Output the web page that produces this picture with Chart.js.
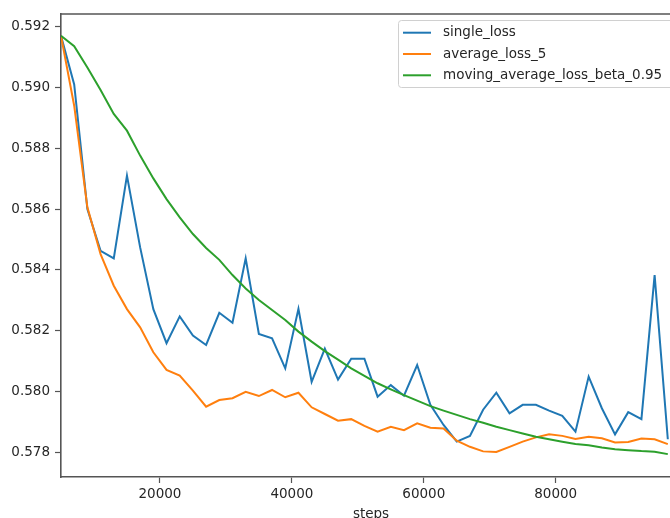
<!DOCTYPE html>
<html>
<head>
<meta charset="utf-8">
<script src="https://cdn.jsdelivr.net/npm/chart.js@4.4.1/dist/chart.umd.min.js"></script>
<style>
  html, body { margin: 0; padding: 0; overflow: hidden; background: #fff; }
  canvas { display: block; }
</style>
</head>
<body>
<canvas id="lossChart" width="681" height="530"></canvas>
<script>
// training steps (every 2000)
var steps = [5000, 7000, 9000, 11000, 13000, 15000, 17000, 19000, 21000, 23000,
    25000, 27000, 29000, 31000, 33000, 35000, 37000, 39000, 41000, 43000,
    45000, 47000, 49000, 51000, 53000, 55000, 57000, 59000, 61000, 63000,
    65000, 67000, 69000, 71000, 73000, 75000, 77000, 79000, 81000, 83000,
    85000, 87000, 89000, 91000, 93000, 95000, 97000];

var singleLoss = [0.5917, 0.5901, 0.5860, 0.58463, 0.58438, 0.58710, 0.58474, 0.58271, 0.58159, 0.58247,
    0.58184, 0.58153, 0.58259, 0.58226, 0.58438, 0.58189, 0.58175, 0.58076, 0.58272, 0.58032,
    0.58141, 0.58039, 0.58108, 0.58108, 0.57983, 0.58021, 0.57986, 0.58087, 0.57956, 0.57890,
    0.57835, 0.57854, 0.57940, 0.57996, 0.57928, 0.57956, 0.57956, 0.57937, 0.57920, 0.57868,
    0.58049, 0.57945, 0.57859, 0.57932, 0.57909, 0.58383, 0.57843];

var averageLoss5 = [0.5917, 0.5894, 0.58606, 0.58452, 0.58348, 0.58271, 0.58211, 0.58129, 0.58071, 0.58052,
    0.58003, 0.57950, 0.57972, 0.57978, 0.57999, 0.57985, 0.58005, 0.57981, 0.57996, 0.57948,
    0.57926, 0.57904, 0.57909, 0.57887, 0.57868, 0.57884, 0.57873, 0.57895, 0.57881, 0.57878,
    0.57838, 0.57818, 0.57803, 0.57801, 0.57818, 0.57835, 0.57849, 0.57859, 0.57854, 0.57844,
    0.57851, 0.57846, 0.57832, 0.57834, 0.57845, 0.57843, 0.57827];

var movingAvgLoss = [0.5917, 0.59136, 0.59066, 0.58992, 0.58913, 0.58858, 0.58776, 0.58701, 0.58633, 0.58573,
    0.58518, 0.58472, 0.58433, 0.58383, 0.58339, 0.58301, 0.58268, 0.58235, 0.58197, 0.58164,
    0.58133, 0.58105, 0.58076, 0.58051, 0.58027, 0.58007, 0.57988, 0.57970, 0.57952, 0.57937,
    0.57923, 0.57909, 0.57897, 0.57884, 0.57873, 0.57862, 0.57851, 0.57843, 0.57835, 0.57827,
    0.57823, 0.57816, 0.57810, 0.57807, 0.57804, 0.57802, 0.57794];

var seriesNames = ['single_loss', 'average_loss_5', 'moving_average_loss_beta_0.95'];
var seriesColors = ['#1f77b4', '#ff7f0e', '#2ca02c'];

var yTicks = [0.578, 0.580, 0.582, 0.584, 0.586, 0.588, 0.590, 0.592];
var xTicks = [20000, 40000, 60000, 80000];

var FONT = 'DejaVu Sans';
var INK = '#262626';
var SPINE = '#555555';

function points(vals) {
    return steps.map(function (s, i) { return { x: s, y: vals[i] }; });
}

// top/right spines + legend box in the upper right corner
var frameAndLegend = {
    id: 'frameAndLegend',
    afterDraw: function (chart) {
        var ctx = chart.ctx;
        var a = chart.chartArea;
        ctx.save();
        ctx.strokeStyle = SPINE;
        ctx.lineWidth = 1.6;
        ctx.beginPath();
        ctx.moveTo(a.left, a.top);
        ctx.lineTo(a.right, a.top);
        ctx.lineTo(a.right, a.bottom);
        ctx.stroke();

        var bx = 398, by = 20, bw = 276, bh = 67;
        ctx.fillStyle = 'rgba(255,255,255,0.85)';
        ctx.strokeStyle = '#d0d0d0';
        ctx.lineWidth = 1;
        ctx.beginPath();
        ctx.roundRect(bx + 0.5, by + 0.5, bw, bh, 3);
        ctx.fill();
        ctx.stroke();

        ctx.font = '13.5px "' + FONT + '"';
        ctx.textBaseline = 'middle';
        ctx.textAlign = 'left';
        chart.data.datasets.forEach(function (ds, i) {
            var ry = 32.7 + i * 21.3;
            ctx.strokeStyle = ds.borderColor;
            ctx.lineWidth = 2;
            ctx.beginPath();
            ctx.moveTo(403, ry);
            ctx.lineTo(431, ry);
            ctx.stroke();
            ctx.fillStyle = INK;
            ctx.fillText(ds.label, 443, ry);
        });
        ctx.restore();
    }
};

var ctx = document.getElementById('lossChart').getContext('2d');
var lossChart = new Chart(ctx, {
    type: 'line',
    data: {
        datasets: [
            { label: seriesNames[0], data: points(singleLoss), borderColor: seriesColors[0], order: 3 },
            { label: seriesNames[1], data: points(averageLoss5), borderColor: seriesColors[1], order: 2 },
            { label: seriesNames[2], data: points(movingAvgLoss), borderColor: seriesColors[2], order: 1 }
        ]
    },
    options: {
        responsive: false,
        animation: false,
        devicePixelRatio: 1,
        layout: { padding: { top: 14, right: 0, left: 0, bottom: 0 } },
        elements: {
            line: { borderWidth: 2, tension: 0, fill: false },
            point: { radius: 0, hoverRadius: 0 }
        },
        plugins: {
            legend: { display: false },
            tooltip: { enabled: false }
        },
        scales: {
            x: {
                type: 'linear',
                min: 5000,
                max: 99000,
                afterBuildTicks: function (scale) {
                    scale.ticks = xTicks.map(function (v) { return { value: v }; });
                },
                afterFit: function (scale) { scale.height = 53; },
                grid: { drawOnChartArea: false, drawTicks: true, tickLength: 6, tickColor: SPINE, tickWidth: 1.2 },
                border: { display: true, color: SPINE, width: 1.6 },
                ticks: {
                    color: INK,
                    font: { family: FONT, size: 13.5 },
                    padding: 3,
                    maxRotation: 0,
                    autoSkip: false,
                    callback: function (v) { return String(v); }
                },
                title: {
                    display: true,
                    text: 'steps',
                    color: INK,
                    font: { family: FONT, size: 13.5 },
                    padding: { top: 0, bottom: 7 }
                }
            },
            y: {
                type: 'linear',
                min: 0.577187,
                max: 0.592418,
                afterBuildTicks: function (scale) {
                    scale.ticks = yTicks.map(function (v) { return { value: v }; });
                },
                afterFit: function (scale) { scale.width = 61; },
                grid: { drawOnChartArea: false, drawTicks: true, tickLength: 6, tickColor: SPINE, tickWidth: 1.2 },
                border: { display: true, color: SPINE, width: 1.6 },
                ticks: {
                    color: INK,
                    font: { family: FONT, size: 13.5 },
                    padding: 5,
                    autoSkip: false,
                    callback: function (v) { return v.toFixed(3); }
                }
            }
        }
    },
    plugins: [frameAndLegend]
});
</script>
</body>
</html>
